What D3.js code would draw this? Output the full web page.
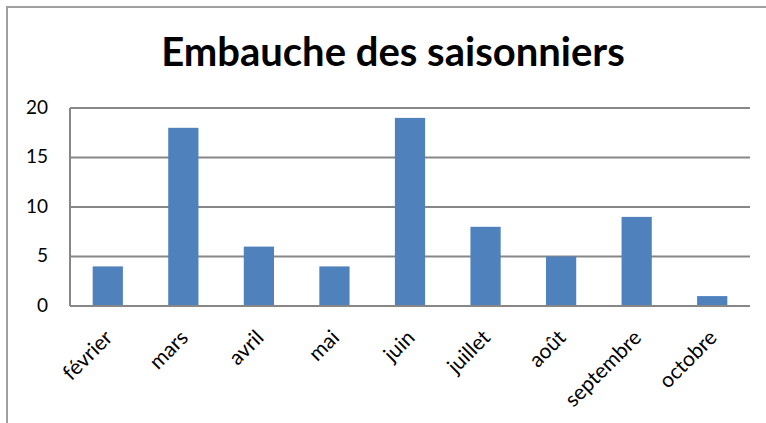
<!DOCTYPE html>
<html>
<head>
<meta charset="utf-8">
<script src="https://cdn.jsdelivr.net/npm/d3@7"></script>
<style>
  body { margin: 0; background: #fff; }
  svg { display: block; font-family: Lato, "Open Sans", sans-serif; }
</style>
</head>
<body>
<div id="app"></div>
<script>
const title = 'Embauche des saisonniers';
const months = ['février', 'mars', 'avril', 'mai', 'juin', 'juillet', 'août', 'septembre', 'octobre'];
const hires = [4, 18, 6, 4, 19, 8, 5, 9, 1];
const yTicks = [0, 5, 10, 15, 20];

const WIDTH = 766, HEIGHT = 423;
const plot = { left: 70, right: 750, top: 108, bottom: 306 };

const svg = d3.select('#app')
  .append('svg')
    .attr('width', WIDTH)
    .attr('height', HEIGHT);

// chart frame (cropped: only top and left edges visible)
svg.append('path')
  .attr('d', `M7,${HEIGHT} V7 H${WIDTH}`)
  .attr('fill', 'none')
  .attr('stroke', '#a0a0a0')
  .attr('stroke-width', 2);

svg.append('text')
  .attr('x', 393)
  .attr('y', 66)
  .attr('text-anchor', 'middle')
  .style('font-size', '40px')
  .style('font-weight', 'bold')
  .attr('fill', '#000')
  .text(title);

const x = d3.scaleBand()
  .domain(months)
  .range([plot.left, plot.right])
  .paddingInner(0.6)
  .paddingOuter(0.3);

const y = d3.scaleLinear()
  .domain([0, 20])
  .range([plot.bottom, plot.top]);

// gridlines
svg.append('g')
  .selectAll('line')
  .data(yTicks)
  .enter()
  .append('line')
    .attr('x1', plot.left)
    .attr('x2', plot.right)
    .attr('y1', d => y(d))
    .attr('y2', d => y(d))
    .attr('stroke', '#878787')
    .attr('stroke-width', 2);

// left axis line
svg.append('line')
  .attr('x1', plot.left).attr('x2', plot.left)
  .attr('y1', plot.top).attr('y2', plot.bottom)
  .attr('stroke', '#878787')
  .attr('stroke-width', 2);

// bars
svg.append('g')
  .selectAll('rect')
  .data(months)
  .enter()
  .append('rect')
    .attr('x', d => x(d))
    .attr('width', x.bandwidth())
    .attr('y', (d, i) => y(hires[i]))
    .attr('height', (d, i) => y(0) - y(hires[i]))
    .attr('fill', '#4f81bd');

// redraw baseline over bars
svg.append('line')
  .attr('x1', plot.left).attr('x2', plot.right)
  .attr('y1', y(0)).attr('y2', y(0))
  .attr('stroke', '#878787')
  .attr('stroke-width', 2);

// y tick labels
svg.append('g')
  .selectAll('text')
  .data(yTicks)
  .enter()
  .append('text')
    .attr('x', 48)
    .attr('y', d => y(d) + 1)
    .attr('text-anchor', 'end')
    .attr('dominant-baseline', 'middle')
    .style('font-size', '19px')
    .attr('fill', '#000')
    .text(d => d);

// x labels, rotated
svg.append('g')
  .selectAll('text')
  .data(months)
  .enter()
  .append('text')
    .attr('transform', d => `translate(${x(d) + x.bandwidth() / 2 + 6},${plot.bottom + 33}) rotate(-45)`)
    .attr('text-anchor', 'end')
    .style('font-size', '21px')
    .attr('fill', '#000')
    .text(d => d);
</script>
</body>
</html>
